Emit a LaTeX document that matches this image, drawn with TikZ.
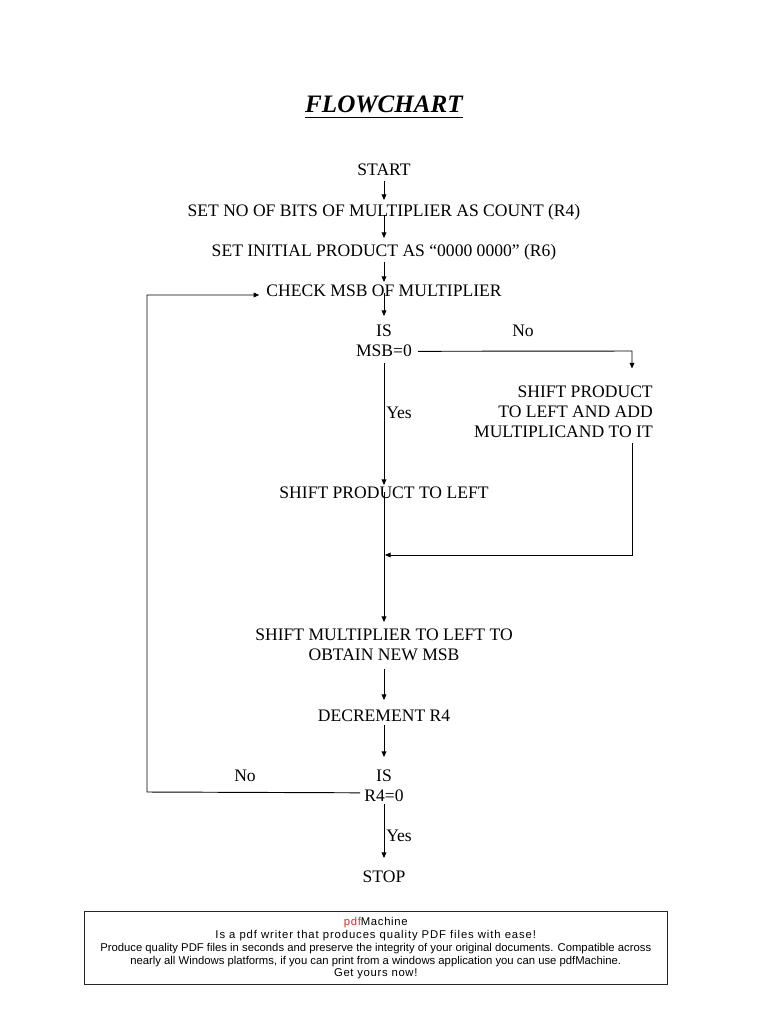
\documentclass[tikz,border=0pt]{standalone}
\usepackage{fontspec}
\setmainfont{Liberation Serif}
\newfontfamily\adfont{Liberation Sans}
\usetikzlibrary{arrows.meta,calc}
\definecolor{pdfred}{RGB}{225,40,40}
\begin{document}
\begin{tikzpicture}[x=0.796875pt,y=-0.796875pt,
  txt/.style={inner sep=0pt,anchor=base,font=\fontsize{14}{15.94}\selectfont},
  txtm/.style={inner sep=0pt,align=center,font=\fontsize{14}{15.94}\selectfont},
  adtxt/.style={inner sep=0pt,anchor=base,font=\adfont\fontsize{9}{11}\selectfont},
  arr/.style={draw=black,line width=0.75pt,-{Triangle[length=4.5pt,width=3.8pt]}},
  ln/.style={draw=black,line width=0.75pt}]
\useasboundingbox[fill=white] (0,0) rectangle (768,1024);
% title
\node[inner sep=0pt,anchor=base,font=\fontsize{20}{24}\selectfont\bfseries\itshape] (title) at (384,112) {FLOWCHART};
\draw[line width=1.1pt] ($(title.base west)+(0,5.5)$) -- ($(title.base east)+(0,5.5)$);
% nodes
\node[txt] (start) at (384,175) {START};
\node[txt] (setno) at (384,216.5) {SET NO OF BITS OF MULTIPLIER AS COUNT (R4)};
\node[txt] (setinit) at (384,256.5) {SET INITIAL PRODUCT AS “0000 0000” (R6)};
\node[txt] (check) at (384,296.5) {CHECK MSB OF MULTIPLIER};
\node[txtm,anchor=north] (dec1) at (384,325) {IS\\MSB=0};
\node[txt] (no1) at (523,336.5) {No};
\node[txtm,align=right,anchor=north east] (shiftadd) at (653,386) {SHIFT PRODUCT\\TO LEFT AND ADD\\MULTIPLICAND TO IT};
\node[txt,anchor=base west] (yes1) at (386,418) {Yes};
\node[txt] (shiftprod) at (384,498) {SHIFT PRODUCT TO LEFT};
\node[txtm,anchor=north] (shiftmul) at (384,628.5) {SHIFT MULTIPLIER TO LEFT TO\\OBTAIN NEW MSB};
\node[txt] (decr) at (384,721) {DECREMENT R4};
\node[txtm,anchor=north] (dec2) at (384,770) {IS\\R4=0};
\node[txt] (no2) at (245,781.5) {No};
\node[txt,anchor=base west] (yes2) at (386,841.5) {Yes};
\node[txt] (stop) at (384,882.5) {STOP};
% connectors
\draw[arr] ($(start.base)+(0,6)$) -- ($(setno.base)+(0,-16.5)$);
\draw[arr] ($(setno.base)+(0,-1.5)$) -- ($(setinit.base)+(0,-18.5)$);
\draw[arr] ($(setinit.base)+(0,5.5)$) -- ($(check.base)+(0,-14.5)$);
\draw[arr] ($(check.base)+(0,-4)$) -- ($(dec1.north)+(0,-9)$);
\coordinate (nocorner) at (632,351);
\draw[arr] ($(dec1.south east)+(6,-6)$) -- (nocorner) -- ($(nocorner |- shiftadd.north)+(0,-17.5)$);
\coordinate (joinR) at (632,555);
\draw[arr] ($(joinR |- shiftadd.south)+(0,5)$) -- (joinR) -- ($(dec1.south |- joinR)+(1,0)$);
\draw[arr] ($(dec1.south)+(0,6)$) -- ($(shiftprod.base)+(0,-13)$);
\draw[arr] ($(shiftprod.base)+(0,-6)$) -- ($(shiftmul.north)+(0,-6.5)$);
\draw[arr] ($(shiftmul.south)+(0,8)$) -- ($(decr.base)+(0,-21)$);
\draw[arr] ($(decr.base)+(0,4)$) -- ($(dec2.north)+(0,-13)$);
\draw[arr] ($(dec2.south)+(0,2)$) -- ($(stop.base)+(0,-24.5)$);
\coordinate (loopBL) at (147,792);
\coordinate (looptip) at ($(check.base west)+(-7,-1.5)$);
\draw[arr] ($(dec2.south west)+(-4,-9.5)$) -- (loopBL) -- (loopBL |- looptip) -- (looptip);
% advert box
\node[draw=black!85,line width=0.7pt,inner sep=0pt,minimum width=582.5*0.796875pt,minimum height=73*0.796875pt] (ad) at (375.75,947.5) {};
\node[adtxt] (ad1) at (ad.center |- 0,925) {\addfontfeature{LetterSpace=6}\textcolor{pdfred}{pdf}Machine};
\node[adtxt] (ad2) at (ad.center |- 0,938) {\addfontfeature{LetterSpace=8}Is a pdf writer that produces quality PDF files with ease!};
\node[adtxt] (ad3) at (ad.center |- 0,951) {Produce quality PDF files in seconds and preserve the integrity of your original documents. Compatible across};
\node[adtxt] (ad4) at (ad.center |- 0,964) {nearly all Windows platforms, if you can print from a windows application you can use pdfMachine.};
\node[adtxt] (ad5) at (ad.center |- 0,976.5) {\addfontfeature{LetterSpace=6}Get yours now!};
\end{tikzpicture}
\end{document}
